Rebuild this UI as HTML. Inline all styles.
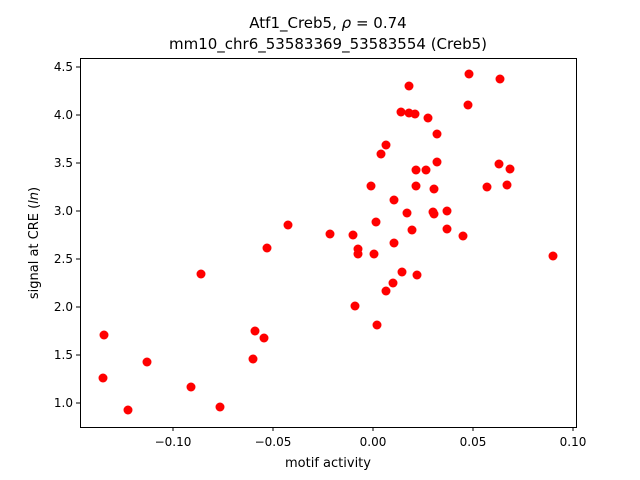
<!DOCTYPE html>
<html><head><meta charset="utf-8"><style>body{margin:0;background:#fff}svg{display:block}text{font-family:"DejaVu Sans","Liberation Sans",sans-serif;fill:#000}</style></head><body>
<svg width="640" height="480" viewBox="0 0 640 480" xmlns="http://www.w3.org/2000/svg">
<rect width="640" height="480" fill="#fff"/>
<text x="328" y="28" font-size="15" text-anchor="middle">Atf1_Creb5, <tspan font-style="italic">ρ</tspan> = 0.74</text>
<text x="328" y="49" font-size="15" text-anchor="middle">mm10_chr6_53583369_53583554 (Creb5)</text>
<g fill="#ff0000">
<circle cx="104" cy="335" r="4.5"/><circle cx="103" cy="378" r="4.5"/><circle cx="128" cy="410" r="4.5"/><circle cx="147" cy="362" r="4.5"/><circle cx="191" cy="387" r="4.5"/><circle cx="201" cy="274" r="4.5"/><circle cx="220" cy="407" r="4.5"/><circle cx="255" cy="331" r="4.5"/><circle cx="253" cy="359" r="4.5"/><circle cx="264" cy="338" r="4.5"/><circle cx="267" cy="248" r="4.5"/><circle cx="288" cy="225" r="4.5"/><circle cx="330" cy="234" r="4.5"/><circle cx="353" cy="235" r="4.5"/><circle cx="355" cy="306" r="4.5"/><circle cx="358" cy="249" r="4.5"/><circle cx="358" cy="254" r="4.5"/><circle cx="371" cy="186" r="4.5"/><circle cx="374" cy="254" r="4.5"/><circle cx="376" cy="222" r="4.5"/><circle cx="377" cy="325" r="4.5"/><circle cx="381" cy="154" r="4.5"/><circle cx="386" cy="145" r="4.5"/><circle cx="386" cy="291" r="4.5"/><circle cx="393" cy="283" r="4.5"/><circle cx="394" cy="200" r="4.5"/><circle cx="394" cy="243" r="4.5"/><circle cx="402" cy="272" r="4.5"/><circle cx="401" cy="112" r="4.5"/><circle cx="409" cy="86" r="4.5"/><circle cx="409" cy="113" r="4.5"/><circle cx="407" cy="213" r="4.5"/><circle cx="412" cy="230" r="4.5"/><circle cx="415" cy="114" r="4.5"/><circle cx="416" cy="170" r="4.5"/><circle cx="416" cy="186" r="4.5"/><circle cx="417" cy="275" r="4.5"/><circle cx="426" cy="170" r="4.5"/><circle cx="428" cy="118" r="4.5"/><circle cx="433" cy="212" r="4.5"/><circle cx="434" cy="189" r="4.5"/><circle cx="434" cy="214" r="4.5"/><circle cx="437" cy="162" r="4.5"/><circle cx="437" cy="134" r="4.5"/><circle cx="447" cy="211" r="4.5"/><circle cx="447" cy="229" r="4.5"/><circle cx="463" cy="236" r="4.5"/><circle cx="468" cy="105" r="4.5"/><circle cx="469" cy="74" r="4.5"/><circle cx="487" cy="187" r="4.5"/><circle cx="499" cy="164" r="4.5"/><circle cx="500" cy="79" r="4.5"/><circle cx="507" cy="185" r="4.5"/><circle cx="510" cy="169" r="4.5"/><circle cx="553" cy="256" r="4.5"/>
</g>
<rect x="80.5" y="58.5" width="496" height="369" fill="none" stroke="#000" stroke-width="1"/>
<g stroke="#000" stroke-width="1">
<line x1="173" y1="427" x2="173" y2="431"/><line x1="273" y1="427" x2="273" y2="431"/><line x1="373" y1="427" x2="373" y2="431"/><line x1="473" y1="427" x2="473" y2="431"/><line x1="573" y1="427" x2="573" y2="431"/>
<line x1="76" y1="403" x2="80" y2="403"/><line x1="76" y1="355" x2="80" y2="355"/><line x1="76" y1="307" x2="80" y2="307"/><line x1="76" y1="259" x2="80" y2="259"/><line x1="76" y1="211" x2="80" y2="211"/><line x1="76" y1="163" x2="80" y2="163"/><line x1="76" y1="115" x2="80" y2="115"/><line x1="76" y1="67" x2="80" y2="67"/>
</g>
<g font-size="12" text-anchor="middle">
<text x="173" y="446">−0.10</text><text x="273" y="446">−0.05</text><text x="373" y="446">0.00</text><text x="473" y="446">0.05</text><text x="573" y="446">0.10</text>
</g>
<g font-size="12" text-anchor="end">
<text x="73" y="407">1.0</text><text x="73" y="359">1.5</text><text x="73" y="311">2.0</text><text x="73" y="263">2.5</text><text x="73" y="215">3.0</text><text x="73" y="167">3.5</text><text x="73" y="119">4.0</text><text x="73" y="71">4.5</text>
</g>
<text x="328" y="467" font-size="13" text-anchor="middle">motif activity</text>
<text transform="translate(38,243) rotate(-90)" font-size="13" text-anchor="middle">signal at CRE (<tspan font-style="italic">ln</tspan>)</text>
</svg>
</body></html>
